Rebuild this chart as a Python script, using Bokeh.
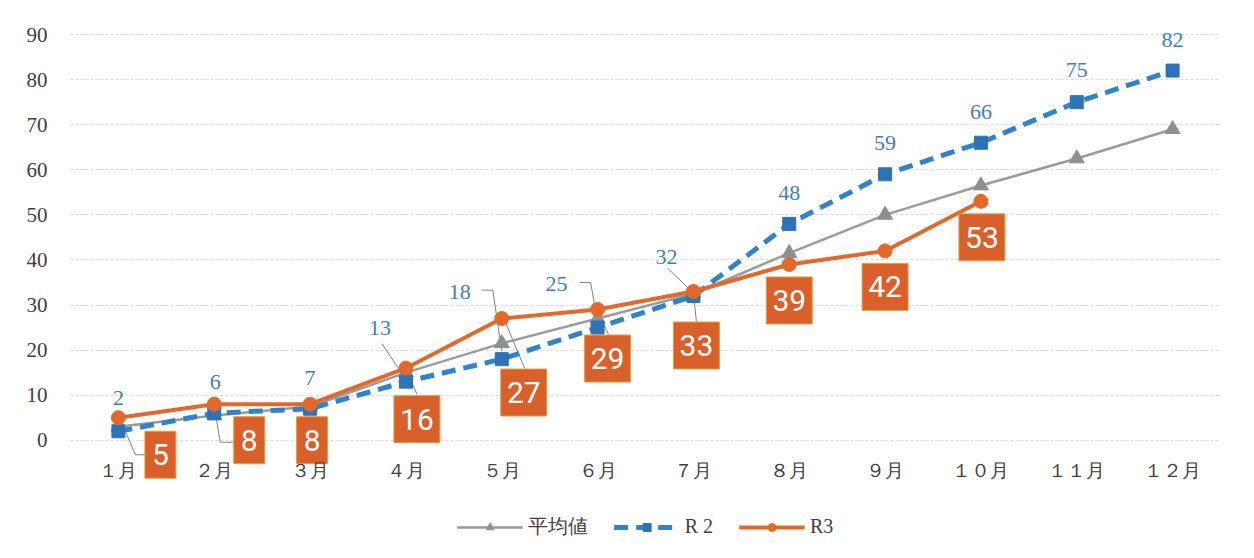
from bokeh.plotting import figure
from bokeh.models import ColumnDataSource, Range1d, FixedTicker, Legend, LegendItem
from bokeh.core.properties import value
from bokeh.embed import file_html
from bokeh.resources import INLINE

# ---- data ----
months = ["１月", "２月", "３月", "４月", "５月", "６月", "７月", "８月", "９月", "１０月", "１１月", "１２月"]
avg_vals = [3, 5.5, 7.5, 15, 21.5, 27, 32.5, 41.5, 50, 56.5, 62.5, 69]
r2_vals = [2, 6, 7, 13, 18, 25, 32, 48, 59, 66, 75, 82]
r3_vals = [5, 8, 8, 16, 27, 29, 33, 39, 42, 53]
y_ticks = [0, 10, 20, 30, 40, 50, 60, 70, 80, 90]
series_names = ["平均値", "R 2", "R3"]

# ---- label placement (screen px offsets from the point, up = positive) ----
r2_dx = [0, 1, 0, -26, -42, -41, -27, 0, 0, 0, 0, 0]
r2_dy = [33, 31, 31, 54, 67, 44, 39, 31, 31, 31, 32, 31]
r3_dx = [42, 35, 2, 11, 22, 10, 3, 0, 0, 1]
r3_dy = [-37, -36, -36, -51, -74, -49, -54, -36, -36, -36]
r3_leaders = {0: [(2, -2), (17, -37), (27, -37)], 1: [(0, -2), (6, -38), (20, -38)],
              3: [(1, -4), (11, -26)], 4: [(3, -2), (23, -50)], 5: [(0, -2), (11, -25)],
              6: [(0, -2), (3, -30)]}
r2_leaders = {3: [(-24, 38), (0, 2)], 4: [(-20, 69), (-9, 69), (0, 8)],
              5: [(-18, 45), (-7, 45), (0, 7)], 6: [(-26, 28), (-1, 4)]}

BL, BR, BT = 70, 26, 25
FW, FH = 1150, 523
X0, X1 = 0.5, 12.5
Y0, Y1 = -24, 92
kx = FW / (X1 - X0)
ky = FH / (Y1 - Y0)

xs = list(range(1, len(months) + 1))

GRAY = "#9b9b9b"
BLUE = "#3182cc"
BLUE_M = "#2e72b8"
ORANGE = "#e2692b"
BOX = "#d9602a"
SERIF = "Liberation Serif"

p = figure(frame_width=FW, frame_height=FH, x_range=Range1d(X0, X1), y_range=Range1d(Y0, Y1),
           min_border_left=BL, min_border_right=BR, min_border_top=BT, min_border_bottom=0,
           output_backend="svg", toolbar_location=None, background_fill_color="white",
           border_fill_color="white")
p.outline_line_color = None

# axes
p.yaxis.ticker = FixedTicker(ticks=y_ticks)
p.yaxis.axis_line_color = None
p.yaxis.major_tick_line_color = None
p.yaxis.minor_tick_line_color = None
p.yaxis.major_label_standoff = 17
p.yaxis.major_label_text_font = SERIF
p.yaxis.major_label_text_font_size = "21px"
p.yaxis.major_label_text_color = "#404040"

p.xaxis.ticker = FixedTicker(ticks=xs)
p.xaxis.major_label_overrides = {x: m for x, m in zip(xs, months)}
p.xaxis.fixed_location = -3
p.xaxis.axis_line_color = None
p.xaxis.major_tick_line_color = None
p.xaxis.minor_tick_line_color = None
p.xaxis.major_label_standoff = 0
p.xaxis.major_label_text_font = SERIF
p.xaxis.major_label_text_font_size = "19px"
p.xaxis.major_label_text_color = "#404040"

p.xgrid.visible = False
p.ygrid.ticker = FixedTicker(ticks=y_ticks)
p.ygrid.grid_line_color = "#dadada"
p.ygrid.grid_line_dash = "3 2"

# leader lines
lx, ly = [], []
for vals, leaders in ((r3_vals, r3_leaders), (r2_vals, r2_leaders)):
    for i, pts in leaders.items():
        lx.append([xs[i] + dx / kx for dx, dy in pts])
        ly.append([vals[i] + dy / ky for dx, dy in pts])
p.multi_line(lx, ly, line_color="#808080", line_width=1)

# series
avg_src = ColumnDataSource(dict(x=xs, y=avg_vals))
r2_src = ColumnDataSource(dict(x=xs, y=r2_vals))
r3_x = xs[:len(r3_vals)]
r3_src = ColumnDataSource(dict(x=r3_x, y=r3_vals))

a_l = p.line("x", "y", source=avg_src, line_color=GRAY, line_width=2.5)
a_m = p.scatter("x", "y", source=avg_src, marker="triangle", size=15, fill_color="#8f8f8f",
                line_color="#8f8f8f")
b_l = p.line("x", "y", source=r2_src, line_color=BLUE, line_width=5, line_dash="14 8")
b_m = p.scatter("x", "y", source=r2_src, marker="square", size=13, fill_color=BLUE_M,
                line_color=BLUE_M)
c_l = p.line("x", "y", source=r3_src, line_color=ORANGE, line_width=4)
c_m = p.scatter("x", "y", source=r3_src, marker="circle", size=14, fill_color=ORANGE,
                line_color=ORANGE)

# data labels (positions = data point + screen offset converted through the scales)
r2_lab = ColumnDataSource(dict(
    x=[x + dx / kx for x, dx in zip(xs, r2_dx)],
    y=[v + dy / ky for v, dy in zip(r2_vals, r2_dy)],
    t=[str(v) for v in r2_vals]))
p.text("x", "y", text="t", source=r2_lab, text_align="center", text_baseline="middle",
       text_color="#3a80c2", text_font=value(SERIF), text_font_size="22px")

r3_lab = ColumnDataSource(dict(
    x=[x + dx / kx for x, dx in zip(r3_x, r3_dx)],
    y=[v + dy / ky for v, dy in zip(r3_vals, r3_dy)],
    t=[str(v) for v in r3_vals],
    w=[16 + 15 * len(str(v)) for v in r3_vals]))
p.rect("x", "y", width="w", height=47, width_units="screen", height_units="screen",
       source=r3_lab, fill_color=BOX, line_color="#e0a040", line_width=1)
p.text("x", "y", text="t", source=r3_lab, text_align="center", text_baseline="middle",
       text_color="white", text_font=value("Roboto"), text_font_size="30px")

legend = Legend(items=[LegendItem(label=series_names[0], renderers=[a_l, a_m]),
                       LegendItem(label=series_names[1], renderers=[b_l, b_m]),
                       LegendItem(label=series_names[2], renderers=[c_l, c_m])],
                orientation="horizontal", location="bottom_center", border_line_color=None,
                background_fill_alpha=0, glyph_width=66, glyph_height=20, spacing=26,
                label_text_font=SERIF, label_text_font_size="20px", label_text_color="#404040",
                margin=8, padding=6)
p.add_layout(legend)

open("out.html", "w").write(file_html(p, INLINE))
